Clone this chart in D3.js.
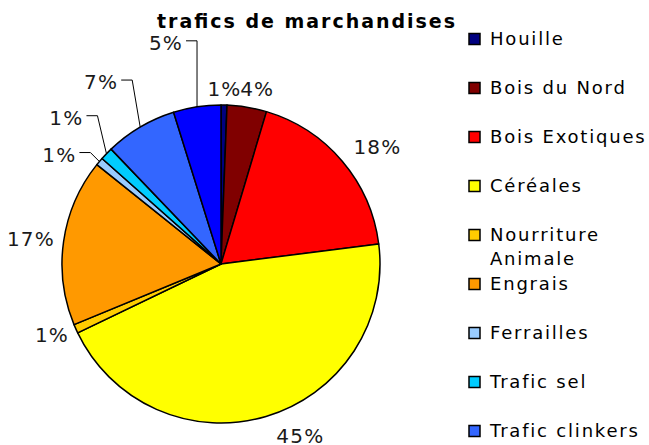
<!DOCTYPE html>
<html>
<head>
<meta charset="utf-8">
<script src="https://cdn.jsdelivr.net/npm/d3@7"></script>
<style>
  body { margin: 0; background: #fff; }
  text { font-family: "DejaVu Sans", Verdana, sans-serif; }
</style>
</head>
<body>
<div id="chart"></div>
<script>
// values (percent of total)
const categories = ["Houille", "Bois du Nord", "Bois Exotiques", "Céréales", "Nourriture Animale",
    "Engrais", "Ferrailles", "Trafic sel", "Trafic clinkers", "Autres"];
const values = [0.6, 4.0, 18.3, 44.7, 0.9, 16.9, 0.8, 1.3, 7.3, 4.8];
const colors = ["#000080", "#800000", "#FF0000", "#FFFF00", "#FFCC00",
    "#FF9900", "#99CCFF", "#00CCFF", "#3366FF", "#0000FF"];
const title = "trafics de marchandises";

function main() {
    const width = 649;
    const height = 445;
    const cx = 221, cy = 264, radius = 159;

    const svg = d3.select("#chart").append("svg")
        .attr("width", width)
        .attr("height", height);

    svg.append("text")
        .attr("x", 306)
        .attr("y", 28)
        .attr("text-anchor", "middle")
        .attr("font-size", "19px")
        .attr("font-weight", "bold")
        .attr("textLength", 298)
        .attr("lengthAdjust", "spacing")
        .attr("fill", "#000")
        .text(title);

    const data = categories.map((c, i) => ({ name: c, value: values[i], color: colors[i] }));
    const total = d3.sum(values);

    const pie = d3.pie().sort(null).value(d => d.value);
    const arcs = pie(data);
    const arc = d3.arc().innerRadius(0).outerRadius(radius);

    const g = svg.append("g").attr("transform", "translate(" + cx + "," + cy + ")");

    g.selectAll("path.slice")
        .data(arcs)
        .enter()
        .append("path")
        .attr("class", "slice")
        .attr("d", arc)
        .attr("fill", d => d.data.color)
        .attr("stroke", "#000")
        .attr("stroke-width", 1.5)
        .attr("stroke-linejoin", "round");

    // labels pushed out with leader lines (slice index -> elbow offset from arc edge)
    const leaders = { 6: [-9, -9], 7: [-9, -38], 8: [-8, -47], 9: [0, -66] };
    // small nudges where the original label moved off the mid angle
    const nudge = { 1: [6, -2], 2: [10, -4], 3: [25, 4] };
    const gap = 9;

    const labels = g.selectAll("g.lbl")
        .data(arcs)
        .enter()
        .append("g")
        .attr("class", "lbl");

    labels.each(function (d, i) {
        const el = d3.select(this);
        const a = (d.startAngle + d.endAngle) / 2;
        const sin = Math.sin(a), cos = Math.cos(a);
        const txt = el.append("text")
            .attr("font-size", "20px")
            .attr("letter-spacing", "1.2px")
            .attr("fill", "#1a1a1a")
            .text(Math.round(d.value / total * 100) + "%");
        const w = txt.node().getComputedTextLength();
        const h = 15;

        if (leaders[i]) {
            const ex = radius * sin + leaders[i][0];
            const ey = -radius * cos + leaders[i][1];
            txt.attr("x", ex - 14)
                .attr("y", ey + 2)
                .attr("dy", "0.35em")
                .attr("text-anchor", "end");
            el.append("path")
                .attr("d", d3.line()([[ex - 11, ey], [ex, ey], [radius * sin, -radius * cos]]))
                .attr("fill", "none")
                .attr("stroke", "#000")
                .attr("stroke-width", 1);
        } else {
            const n = nudge[i] || [0, 0];
            const px = (radius + gap) * sin + sin * w / 2 + n[0];
            const py = -(radius + gap) * cos - cos * h / 2 + n[1];
            txt.attr("x", px)
                .attr("y", py)
                .attr("dy", "0.35em")
                .attr("text-anchor", "middle");
        }
    });

    // legend
    const legendX = 469, legendY = 39, rowH = 49, textX = 490;
    const legend = svg.append("g");
    data.forEach((d, i) => {
        const y = legendY + i * rowH;
        if (y + 8 > height) return;
        legend.append("rect")
            .attr("x", legendX)
            .attr("y", y - 5.5)
            .attr("width", 11)
            .attr("height", 11)
            .attr("fill", d.color)
            .attr("stroke", "#000")
            .attr("stroke-width", 1.5);
        const t = legend.append("text")
            .attr("x", textX)
            .attr("y", y)
            .attr("dy", "0.36em")
            .attr("font-size", "18px")
            .attr("letter-spacing", "1.8px")
            .attr("fill", "#000")
            .text(d.name);
        if (t.node().getComputedTextLength() > width - textX) {
            const words = d.name.split(" ");
            t.text(null);
            words.forEach((wd, k) => {
                t.append("tspan")
                    .attr("x", textX)
                    .attr("dy", k === 0 ? "0.36em" : "24px")
                    .text(wd);
            });
        }
    });
}
main();
</script>
</body>
</html>
